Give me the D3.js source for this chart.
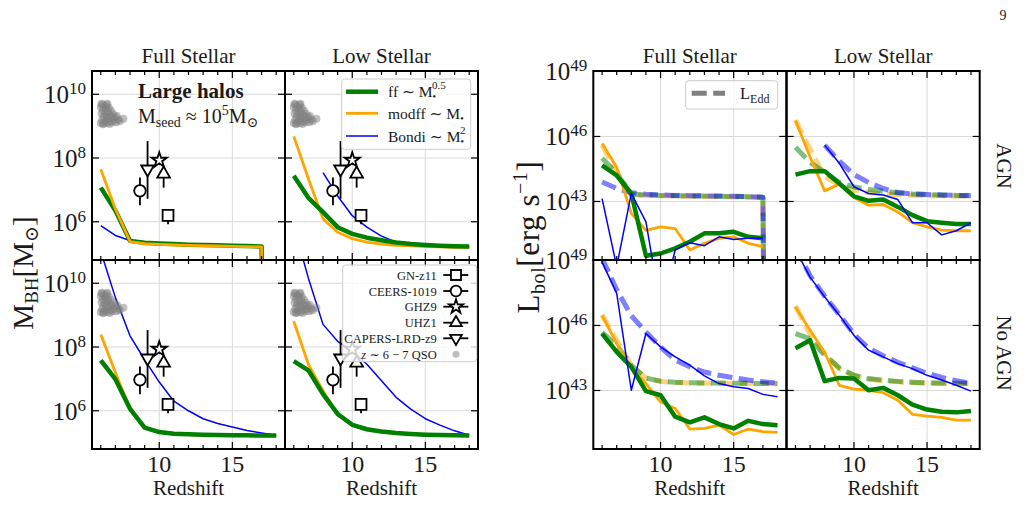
<!DOCTYPE html>
<html lang="en">
<head>
    <script src="https://d3js.org/d3.v7.min.js"></script>
    <style>
        body { margin: 0; background: #fff; }
        svg text { font-family: "Liberation Serif", "DejaVu Serif", serif; fill: #1a1a1a; }
    </style>
</head>
<body>
<svg id="fig" width="1026" height="505"></svg>
<script>
    // ---------- data (log10 values, null = not plotted, DROP = value falls to zero) ----------
    const DROP = -30;
    const redshift = [6, 7, 8, 9, 10, 11, 12, 13, 14, 15, 16, 17, 18];

    // black hole mass, log10(M/Msun)
    const mFullAgnFf    = [7.07, 6.35, 5.40, 5.34, 5.32, 5.30, 5.28, 5.27, 5.26, 5.25, 5.24, 5.22, DROP];
    const mFullAgnModff = [7.65, 6.40, 5.38, 5.31, 5.29, 5.27, 5.26, 5.25, 5.24, 5.23, 5.22, 5.21, DROP];
    const mFullAgnBondi = [5.88, 5.57, 5.41, 5.35, 5.32, 5.30, 5.28, 5.27, 5.26, 5.25, 5.24, 5.22, DROP];

    const mLowAgnFf     = [7.44, 6.75, 6.30, 5.83, 5.62, 5.50, 5.42, 5.35, 5.30, 5.27, 5.25, 5.23, 5.22];
    const mLowAgnModff  = [8.68, 7.35, 6.09, 5.67, 5.47, 5.36, 5.30, 5.26, 5.24, 5.22, 5.21, 5.20, 5.20];
    const mLowAgnBondi  = [null, null, 7.54, 6.81, 6.19, 5.83, 5.55, 5.36, 5.30, 5.27, 5.25, 5.23, 5.21];

    const mFullNoFf     = [7.58, 6.99, 6.06, 5.47, 5.33, 5.28, 5.26, 5.25, 5.24, 5.23, 5.23, 5.22, 5.22];
    const mFullNoModff  = [8.39, 7.20, 6.06, 5.47, 5.32, 5.27, 5.25, 5.24, 5.23, 5.23, 5.22, 5.22, 5.21];
    const mFullNoBondi  = [11.0, 9.55, 8.35, 7.60, 6.90, 6.30, 6.00, 5.75, 5.60, 5.49, 5.38, 5.30, 5.23];

    const mLowNoFf      = [7.56, 7.27, 6.52, 5.90, 5.56, 5.42, 5.35, 5.30, 5.27, 5.25, 5.24, 5.23, 5.22];
    const mLowNoModff   = [8.81, 7.45, 6.63, 5.88, 5.55, 5.40, 5.33, 5.29, 5.26, 5.24, 5.23, 5.22, 5.21];
    const mLowNoBondi   = [11.8, 10.16, 8.71, 8.18, 7.87, 7.46, 6.94, 6.42, 6.05, 5.75, 5.55, 5.37, 5.23];

    // bolometric luminosity, log10(L / erg s^-1)
    const lFullAgnFf    = [44.67, 44.20, 43.37, 40.50, 40.60, 40.84, 41.14, 41.53, 41.53, 41.60, 41.37, 41.30, null];
    const lFullAgnModff = [45.67, 44.58, 42.45, 41.67, 41.83, 41.75, 40.76, 41.07, 41.30, 41.37, 41.07, 40.92, null];
    const lFullAgnBondi = [43.13, 40.00, 43.37, 42.06, 38.10, 40.76, 41.10, 40.96, 41.37, 41.25, 41.30, 41.30, null];

    const lLowAgnFf     = [44.24, 44.40, 44.40, 43.83, 43.24, 43.03, 43.09, 42.75, 42.37, 42.09, 42.02, 41.96, 41.96];
    const lLowAgnModff  = [46.74, 45.05, 43.49, 43.80, 43.18, 42.83, 42.86, 42.52, 42.02, 41.83, 41.68, 41.65, 41.65];
    const lLowAgnBondi  = [null, null, 45.60, 44.76, 43.68, 43.37, 43.30, 43.09, 42.02, 42.02, 41.46, 41.65, 42.02];

    const lFullNoFf     = [45.62, 44.78, 44.09, 42.97, 42.78, 41.79, 41.53, 41.76, 41.45, 41.25, 41.60, 41.45, 41.40];
    const lFullNoModff  = [46.47, 45.16, 44.01, 43.32, 42.48, 42.17, 41.22, 41.25, 41.40, 40.97, 41.22, 41.10, 41.07];
    const lFullNoBondi  = [48.92, 47.48, 43.01, 45.63, 45.01, 44.55, 44.17, 43.67, 43.32, 43.17, 43.09, 42.82, 42.71];

    const lLowNoFf      = [44.95, 45.32, 43.43, 43.58, 43.55, 43.01, 43.12, 42.78, 42.35, 42.12, 42.02, 41.99, 42.05];
    const lLowNoModff   = [46.85, 45.78, 44.75, 43.24, 43.06, 43.01, 42.90, 42.55, 41.90, 41.82, 41.76, 41.63, 41.63];
    const lLowNoBondi   = [49.50, 48.23, 47.31, 46.47, 45.55, 44.86, 44.55, 44.24, 44.01, 43.70, 43.48, 43.24, 42.97];

    // Eddington luminosity, log10(L_Edd / erg s^-1)
    const eFullAgnFf    = [45.00, 44.30, 43.35, 43.30, 43.28, 43.27, 43.26, 43.25, 43.24, 43.23, 43.22, 43.20, DROP];
    const eFullAgnModff = [45.60, 44.35, 43.30, 43.28, 43.26, 43.25, 43.24, 43.23, 43.22, 43.21, 43.20, 43.20, DROP];
    const eFullAgnBondi = [43.90, 43.60, 43.40, 43.33, 43.30, 43.28, 43.27, 43.26, 43.25, 43.24, 43.22, 43.20, DROP];

    const eLowAgnFf     = [45.50, 44.80, 44.35, 43.88, 43.67, 43.55, 43.47, 43.40, 43.35, 43.32, 43.30, 43.28, 43.27];
    const eLowAgnModff  = [46.75, 45.40, 44.15, 43.75, 43.52, 43.41, 43.35, 43.31, 43.29, 43.27, 43.26, 43.25, 43.25];
    const eLowAgnBondi  = [null, null, 45.60, 44.86, 44.24, 43.88, 43.60, 43.41, 43.35, 43.32, 43.30, 43.28, 43.26];

    const eFullNoFf     = [45.68, 45.09, 44.16, 43.57, 43.43, 43.38, 43.36, 43.35, 43.34, 43.33, 43.33, 43.32, 43.32];
    const eFullNoModff  = [46.49, 45.30, 44.16, 43.57, 43.42, 43.37, 43.35, 43.34, 43.33, 43.33, 43.32, 43.32, 43.31];
    const eFullNoBondi  = [49.10, 47.65, 46.45, 45.70, 45.00, 44.40, 44.10, 43.85, 43.70, 43.59, 43.48, 43.40, 43.33];

    const eLowNoFf      = [45.62, 45.38, 44.63, 44.04, 43.70, 43.55, 43.48, 43.42, 43.38, 43.35, 43.34, 43.33, 43.32];
    const eLowNoModff   = [46.90, 45.60, 44.70, 44.00, 43.68, 43.52, 43.45, 43.40, 43.36, 43.34, 43.33, 43.32, 43.31];
    const eLowNoBondi   = [49.60, 48.30, 47.35, 46.50, 45.60, 44.95, 44.60, 44.30, 44.05, 43.80, 43.60, 43.45, 43.33];

    // observed high-z black holes
    const obsNames   = ["GN-z11", "CEERS-1019", "GHZ9", "UHZ1", "CAPERS-LRD-z9"];
    const obsZ       = [10.6, 8.68, 10.0, 10.3, 9.2];
    const obsLogM    = [6.20, 6.97, 7.93, 7.50, 7.65];
    const obsErrLo   = [0.28, 0.45, 0.15, 0.43, 0.93];
    const obsErrHi   = [0.15, 0.42, 0.15, 0.24, 0.88];
    const obsSymbols = ["square", "circle", "star", "triangle", "triangleDown"];

    // z ~ 6-7 quasars
    const qsoZ    = [6.0, 6.05, 6.1, 6.1, 6.15, 6.2, 6.2, 6.25, 6.3, 6.3, 6.35, 6.4, 6.4, 6.45, 6.5, 6.5, 6.55, 6.6,
                     6.6, 6.65, 6.7, 6.75, 6.8, 6.85, 6.9, 7.0, 7.05, 7.1, 7.2, 7.3, 7.55, 6.0, 6.05, 6.45, 6.15];
    const qsoLogM = [9.6, 9.4, 9.2, 9.68, 9.5, 9.3, 9.08, 9.62, 9.4, 9.15, 9.55, 9.3, 9.66, 9.1, 9.45, 9.25, 9.58, 9.35,
                     9.07, 9.15, 9.48, 9.3, 9.12, 9.38, 9.2, 9.28, 9.12, 9.32, 9.2, 9.15, 9.23, 9.1, 9.7, 9.7, 9.06];

    // ---------- layout ----------
    const svg = d3.select("#fig");
    const panelW = 193, panelH = 189;
    const rowsY = [71, 260];
    const leftCols = [92, 285];
    const rightCols = [593.3, 786.7];
    const zDomain = [5.4, 18.6];
    const mDomain = [Math.pow(10, 4.8), Math.pow(10, 10.73)];
    const lDomain = [Math.pow(10, 40.3), Math.pow(10, 49.02)];

    const GREEN = "#008000", ORANGE = "#ffa500", BLUE = "#0000ff";
    const styles = {
        ff: { color: GREEN, width: 4.5 },
        modff: { color: ORANGE, width: 2.8 },
        bondi: { color: BLUE, width: 1.5 }
    };

    let clipCount = 0;

    function symbolPath(name, scale) {
        const s = scale || 1;
        if (name === "square") return d3.symbol(d3.symbolSquare, 118 * s)();
        if (name === "circle") return d3.symbol(d3.symbolCircle, 105 * s)();
        if (name === "star") return d3.symbol(d3.symbolStar, 72 * s)();
        return d3.symbol(d3.symbolTriangle, 70 * s)();
    }

    function supText(sel, base, exp) {
        sel.append("tspan").text(base);
        sel.append("tspan").attr("dy", -9).attr("font-size", 17).text(exp);
    }

    function drawPanel(x0, y0, kind, opts) {
        const x = d3.scaleLinear().domain(zDomain).range([x0, x0 + panelW]);
        const y = d3.scaleLog().domain(kind === "M" ? mDomain : lDomain).range([y0 + panelH, y0]);
        const yMajor = kind === "M" ? [1e6, 1e8, 1e10] : [1e43, 1e46, 1e49];
        const yExp = kind === "M" ? ["6", "8", "10"] : ["43", "46", "49"];
        const g = svg.append("g");

        // grid
        [10, 15].forEach(v => g.append("line").attr("x1", x(v)).attr("x2", x(v))
            .attr("y1", y0).attr("y2", y0 + panelH).attr("stroke", "#dadada").attr("stroke-width", 1));
        yMajor.forEach(v => g.append("line").attr("x1", x0).attr("x2", x0 + panelW)
            .attr("y1", y(v)).attr("y2", y(v)).attr("stroke", "#dadada").attr("stroke-width", 1));

        const id = "clip" + (clipCount++);
        svg.append("clipPath").attr("id", id).append("rect")
            .attr("x", x0).attr("y", y0).attr("width", panelW).attr("height", panelH);
        const plot = g.append("g").attr("clip-path", `url(#${id})`);

        const line = d3.line()
            .defined(d => d.v !== null)
            .x(d => x(d.z))
            .y(d => y(Math.pow(10, d.v)));

        opts.series.forEach(s => {
            const pts = redshift.map((z, i) => ({ z: z, v: s.vals[i] }));
            const st = styles[s.model];
            const p = plot.append("path").datum(pts).attr("d", line)
                .attr("fill", "none").attr("stroke", st.color)
                .attr("stroke-linejoin", "round");
            if (s.dashed) {
                p.attr("stroke-width", 5).attr("stroke-dasharray", "15,6.5").attr("opacity", 0.5);
            } else {
                p.attr("stroke-width", st.width);
            }
        });

        if (kind === "M") {
            plot.selectAll(".qso").data(qsoZ.map((z, i) => [z, qsoLogM[i]])).enter()
                .append("circle")
                .attr("cx", d => x(d[0])).attr("cy", d => y(Math.pow(10, d[1])))
                .attr("r", 4).attr("fill", "#808080").attr("opacity", 0.5);

            obsZ.forEach((z, i) => {
                const cx = x(z), cy = y(Math.pow(10, obsLogM[i]));
                plot.append("line").attr("x1", cx).attr("x2", cx)
                    .attr("y1", y(Math.pow(10, obsLogM[i] + obsErrHi[i])))
                    .attr("y2", y(Math.pow(10, obsLogM[i] - obsErrLo[i])))
                    .attr("stroke", "#000").attr("stroke-width", 1.8);
                plot.append("path").attr("d", symbolPath(obsSymbols[i]))
                    .attr("transform", `translate(${cx},${cy})` + (obsSymbols[i] === "triangleDown" ? " rotate(180)" : ""))
                    .attr("fill", "#fff").attr("stroke", "#000").attr("stroke-width", 1.8);
            });
        }

        // ticks, inward on all sides
        const tk = g.append("g").attr("stroke", "#000").attr("stroke-width", 1.2);
        redshift.forEach(z => {
            const len = (z === 10 || z === 15) ? 7 : 4;
            tk.append("line").attr("x1", x(z)).attr("x2", x(z)).attr("y1", y0 + panelH).attr("y2", y0 + panelH - len);
            tk.append("line").attr("x1", x(z)).attr("x2", x(z)).attr("y1", y0).attr("y2", y0 + len);
        });
        yMajor.forEach(v => {
            tk.append("line").attr("x1", x0).attr("x2", x0 + 7).attr("y1", y(v)).attr("y2", y(v));
            tk.append("line").attr("x1", x0 + panelW).attr("x2", x0 + panelW - 7).attr("y1", y(v)).attr("y2", y(v));
        });

        g.append("rect").attr("x", x0).attr("y", y0).attr("width", panelW).attr("height", panelH)
            .attr("fill", "none").attr("stroke", "#000").attr("stroke-width", 2);

        if (opts.yLabels) {
            yMajor.forEach((v, i) => {
                const t = g.append("text").attr("x", x0 - 6).attr("y", y(v) + 9)
                    .attr("text-anchor", "end").attr("font-size", 25);
                supText(t, "10", yExp[i]);
            });
        }
        if (opts.xLabels) {
            [10, 15].forEach(v => g.append("text").attr("x", x(v)).attr("y", y0 + panelH + 23)
                .attr("text-anchor", "middle").attr("font-size", 24).text(v));
            g.append("text").attr("x", x0 + panelW / 2).attr("y", 495)
                .attr("text-anchor", "middle").attr("font-size", 21).text("Redshift");
        }
        return { x, y };
    }

    function mSeries(order, vals) {
        return order.map(m => ({ model: m, vals: vals[m] }));
    }

    // ---------- M_BH panels ----------
    drawPanel(leftCols[0], rowsY[0], "M", { yLabels: true,
        series: mSeries(["bondi", "ff", "modff"], { ff: mFullAgnFf, modff: mFullAgnModff, bondi: mFullAgnBondi }) });
    drawPanel(leftCols[1], rowsY[0], "M", {
        series: mSeries(["bondi", "modff", "ff"], { ff: mLowAgnFf, modff: mLowAgnModff, bondi: mLowAgnBondi }) });
    drawPanel(leftCols[0], rowsY[1], "M", { yLabels: true, xLabels: true,
        series: mSeries(["bondi", "modff", "ff"], { ff: mFullNoFf, modff: mFullNoModff, bondi: mFullNoBondi }) });
    drawPanel(leftCols[1], rowsY[1], "M", { xLabels: true,
        series: mSeries(["bondi", "modff", "ff"], { ff: mLowNoFf, modff: mLowNoModff, bondi: mLowNoBondi }) });

    // ---------- L_bol panels ----------
    function lSeries(sol, edd) {
        return [
            { model: "modff", vals: edd[1], dashed: true },
            { model: "ff", vals: edd[0], dashed: true },
            { model: "bondi", vals: edd[2], dashed: true },
            { model: "modff", vals: sol[1] },
            { model: "ff", vals: sol[0] },
            { model: "bondi", vals: sol[2] }
        ];
    }
    drawPanel(rightCols[0], rowsY[0], "L", { yLabels: true,
        series: lSeries([lFullAgnFf, lFullAgnModff, lFullAgnBondi], [eFullAgnFf, eFullAgnModff, eFullAgnBondi]) });
    drawPanel(rightCols[1], rowsY[0], "L", {
        series: lSeries([lLowAgnFf, lLowAgnModff, lLowAgnBondi], [eLowAgnFf, eLowAgnModff, eLowAgnBondi]) });
    drawPanel(rightCols[0], rowsY[1], "L", { yLabels: true, xLabels: true,
        series: lSeries([lFullNoFf, lFullNoModff, lFullNoBondi], [eFullNoFf, eFullNoModff, eFullNoBondi]) });
    drawPanel(rightCols[1], rowsY[1], "L", { xLabels: true,
        series: lSeries([lLowNoFf, lLowNoModff, lLowNoBondi], [eLowNoFf, eLowNoModff, eLowNoBondi]) });

    // ---------- titles and labels ----------
    [[leftCols[0], "Full Stellar"], [leftCols[1], "Low Stellar"], [rightCols[0], "Full Stellar"], [rightCols[1], "Low Stellar"]]
        .forEach(d => svg.append("text").attr("x", d[0] + panelW / 2).attr("y", 63)
            .attr("text-anchor", "middle").attr("font-size", 21).text(d[1]));

    svg.append("text").attr("x", 1003).attr("y", 20).attr("font-size", 14).attr("text-anchor", "middle").text("9");

    [["AGN", 166], ["No AGN", 353]].forEach(d => svg.append("text")
        .attr("transform", `translate(997,${d[1]}) rotate(90)`)
        .attr("text-anchor", "middle").attr("font-size", 21).text(d[0]));

    const yl = svg.append("text").attr("transform", "translate(33,273) rotate(-90)")
        .attr("text-anchor", "middle").attr("font-size", 29);
    yl.append("tspan").text("M");
    yl.append("tspan").attr("font-size", 19).attr("dy", 5).text("BH");
    yl.append("tspan").attr("dy", -5).text("[M");
    yl.append("tspan").attr("font-size", 19).attr("dy", 5).text("⊙");
    yl.append("tspan").attr("dy", -5).text("]");

    const ll = svg.append("text").attr("transform", "translate(539,237) rotate(-90)")
        .attr("text-anchor", "middle").attr("font-size", 31).attr("letter-spacing", 0.6);
    ll.append("tspan").text("L");
    ll.append("tspan").attr("font-size", 20).attr("dy", 6).text("bol");
    ll.append("tspan").attr("dy", -6).text("[erg s");
    ll.append("tspan").attr("font-size", 20).attr("dy", -12).text("−1");
    ll.append("tspan").attr("dy", 12).text("]");

    // annotation
    svg.append("text").attr("x", 138).attr("y", 98).attr("font-size", 21).attr("font-weight", "bold").text("Large halos");
    const ann = svg.append("text").attr("x", 138).attr("y", 123).attr("font-size", 20);
    ann.append("tspan").text("M");
    ann.append("tspan").attr("font-size", 14).attr("dy", 4).text("seed");
    ann.append("tspan").attr("dy", -4).text(" ≈ 10");
    ann.append("tspan").attr("font-size", 14).attr("dy", -8).text("5");
    ann.append("tspan").attr("dy", 8).text("M");
    ann.append("tspan").attr("font-size", 14).attr("dy", 4).text("⊙");

    // ---------- legend: accretion models ----------
    const lg1 = svg.append("g");
    lg1.append("rect").attr("x", 341.7).attr("y", 79).attr("width", 129).attr("height", 70.3).attr("rx", 3)
        .attr("fill", "#fff").attr("fill-opacity", 0.8).attr("stroke", "#cccccc");
    const lg1Rows = [
        { model: "ff", y: 91.7, label: "ff ∼ M", exp: "0.5" },
        { model: "modff", y: 113.3, label: "modff ∼ M", exp: null },
        { model: "bondi", y: 136, label: "Bondi ∼ M", exp: "2" }
    ];
    lg1Rows.forEach(r => {
        lg1.append("line").attr("x1", 346).attr("x2", 378).attr("y1", r.y).attr("y2", r.y)
            .attr("stroke", styles[r.model].color).attr("stroke-width", styles[r.model].width);
        const t = lg1.append("text").attr("x", 388).attr("y", r.y + 5.5).attr("font-size", 15.5);
        t.append("tspan").text(r.label);
        t.append("tspan").attr("font-size", 10).attr("dy", 3).text("•");
        if (r.exp) t.append("tspan").attr("font-size", 11).attr("dx", -4).attr("dy", -11).text(r.exp);
    });

    // ---------- legend: observations ----------
    const lg2 = svg.append("g");
    lg2.append("rect").attr("x", 342.7).attr("y", 265).attr("width", 134).attr("height", 96.7).attr("rx", 3)
        .attr("fill", "#fff").attr("fill-opacity", 0.8).attr("stroke", "#cccccc");
    const lg2Y = [275, 291, 306.7, 322.7, 338.3, 354.3];
    obsNames.forEach((n, i) => {
        lg2.append("text").attr("x", 436.7).attr("y", lg2Y[i] + 4.5).attr("text-anchor", "end")
            .attr("font-size", 12.5).text(n);
        lg2.append("line").attr("x1", 443.3).attr("x2", 468.3).attr("y1", lg2Y[i]).attr("y2", lg2Y[i])
            .attr("stroke", "#000").attr("stroke-width", 1.8);
        lg2.append("path").attr("d", symbolPath(obsSymbols[i], 0.85))
            .attr("transform", `translate(456,${lg2Y[i]})` + (obsSymbols[i] === "triangleDown" ? " rotate(180)" : ""))
            .attr("fill", "#fff").attr("stroke", "#000").attr("stroke-width", 1.8);
    });
    const qt = lg2.append("text").attr("x", 436.7).attr("y", lg2Y[5] + 4.5).attr("text-anchor", "end").attr("font-size", 12.5);
    qt.append("tspan").attr("font-style", "italic").text("z");
    qt.append("tspan").text(" ∼ 6 − 7 QSO");
    lg2.append("circle").attr("cx", 456).attr("cy", lg2Y[5]).attr("r", 3.5).attr("fill", "#808080").attr("opacity", 0.5);

    // ---------- legend: Eddington ----------
    const lg3 = svg.append("g");
    lg3.append("rect").attr("x", 685.7).attr("y", 80.7).attr("width", 92).attr("height", 28.3).attr("rx", 3)
        .attr("fill", "#fff").attr("fill-opacity", 0.8).attr("stroke", "#cccccc");
    lg3.append("line").attr("x1", 691.7).attr("x2", 725).attr("y1", 93.3).attr("y2", 93.3)
        .attr("stroke", "#808080").attr("stroke-width", 5).attr("stroke-dasharray", "15,6.5");
    const et = lg3.append("text").attr("x", 740).attr("y", 99).attr("font-size", 16.5);
    et.append("tspan").text("L");
    et.append("tspan").attr("font-size", 12).attr("dy", 4).text("Edd");
</script>
</body>
</html>
